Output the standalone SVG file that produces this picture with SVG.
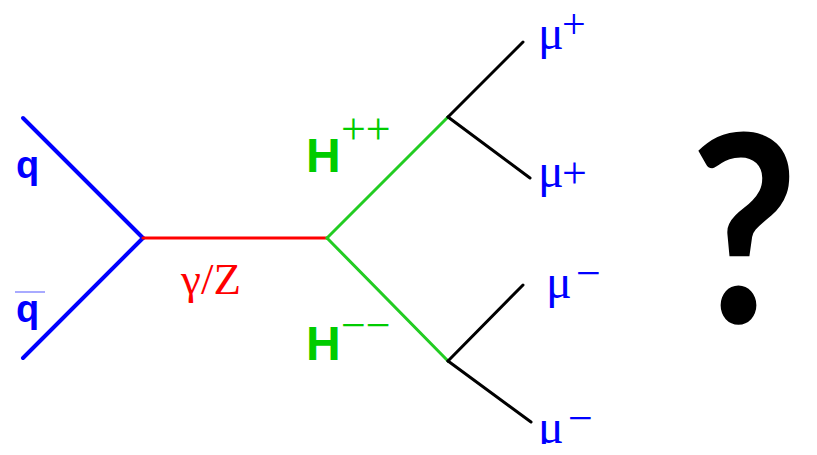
<svg xmlns="http://www.w3.org/2000/svg" width="817" height="455" viewBox="0 0 817 455">
<style>
.sans{font-family:"Liberation Sans",Arial,sans-serif;font-weight:bold}
.serif{font-family:"Liberation Serif","Times New Roman",serif}
.blue{fill:#0000ff}
.green{fill:#00cc00}
.sup{font-size:44px}
.mu{font-size:48px}
</style>
<defs>
<clipPath id="cut"><rect x="0" y="0" width="817" height="444"/></clipPath>
</defs>
<g id="connectors" fill="none" stroke-linecap="round">
<line x1="23" y1="118" x2="143" y2="238" stroke="#0000ff" stroke-width="4"/>
<line x1="23" y1="358" x2="143" y2="238" stroke="#0000ff" stroke-width="4"/>
<line x1="143" y1="238" x2="327" y2="238" stroke="#ff0000" stroke-width="3"/>
<line x1="327" y1="238" x2="448" y2="117" stroke="#22cc22" stroke-width="3"/>
<line x1="327" y1="238" x2="448" y2="361" stroke="#22cc22" stroke-width="3"/>
<line x1="448" y1="117" x2="523" y2="42" stroke="#000" stroke-width="3"/>
<line x1="448" y1="117" x2="530" y2="178" stroke="#000" stroke-width="3"/>
<line x1="448" y1="361" x2="523" y2="285" stroke="#000" stroke-width="3"/>
<line x1="448" y1="361" x2="531" y2="422" stroke="#000" stroke-width="3"/>
</g>
<g id="q">
<text class="sans blue" x="16" y="178" font-size="38">q</text>
</g>
<g id="qbar">
<line x1="15" y1="292" x2="45" y2="292" stroke="#a8aaff" stroke-width="2"/>
<text class="sans blue" x="16" y="322" font-size="38">q</text>
</g>
<g id="gammaZ">
<text class="serif" x="181" y="294" font-size="45" fill="#ff0000">γ/Z</text>
</g>
<g id="Hpp">
<text class="sans green" x="306" y="172" font-size="48">H</text>
<text class="serif sup green" x="341" y="144">++</text>
</g>
<g id="Hmm">
<text class="sans green" x="306" y="360" font-size="48">H</text>
<text class="serif sup green" x="341" y="340">−−</text>
</g>
<g id="mu1">
<text class="serif mu blue" x="538" y="49">μ</text>
<text class="serif blue" x="562" y="38" font-size="42">+</text>
</g>
<g id="mu2">
<text class="serif mu blue" x="538" y="187">μ</text>
<text class="serif sup blue" x="562" y="188">+</text>
</g>
<g id="mu3">
<text class="serif mu blue" x="546" y="298">μ</text>
<text class="serif sup blue" x="576" y="288">−</text>
</g>
<g id="mu4">
<text class="serif mu blue" x="538" y="443" clip-path="url(#cut)">μ</text>
<text class="serif sup blue" x="568" y="433">−</text>
</g>
<g id="question">
<text x="0" y="0" font-family="Lato, sans-serif" font-weight="bold" font-size="262" transform="translate(690,323) scale(0.9,1)">?</text>
</g>
</svg>
